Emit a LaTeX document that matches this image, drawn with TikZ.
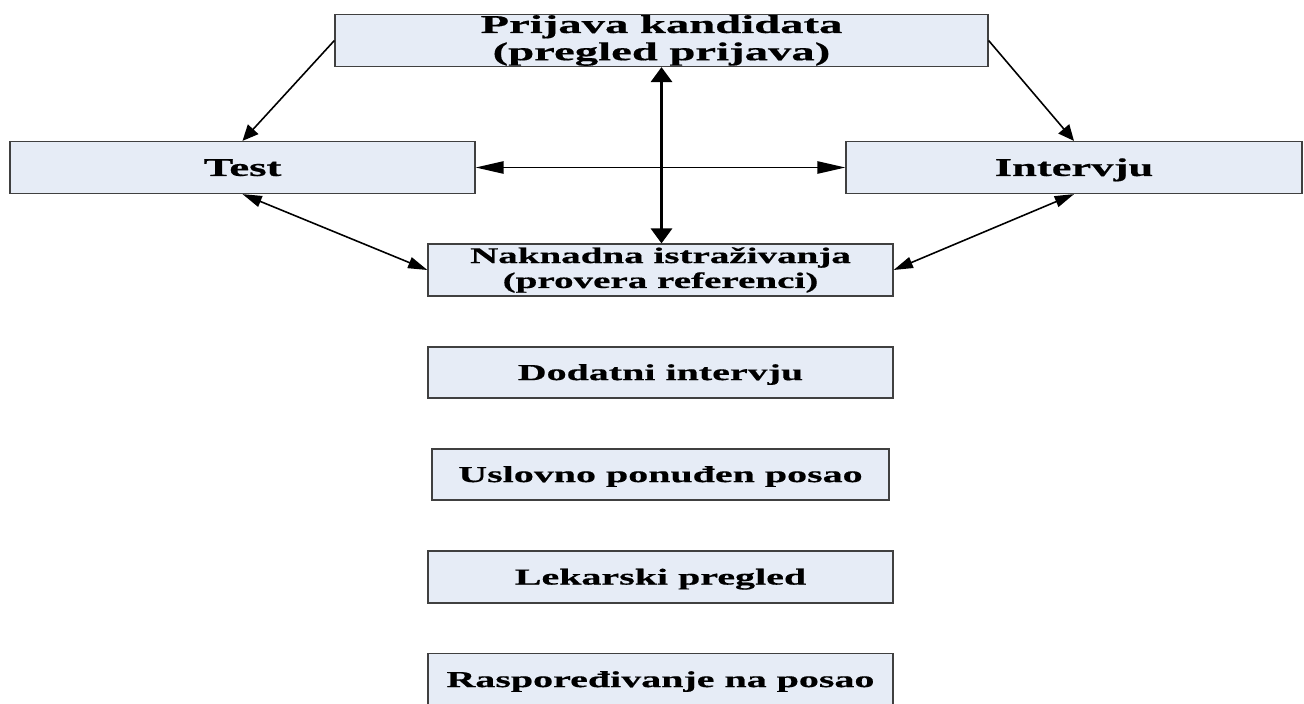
\documentclass[tikz,border=0pt]{standalone}
\usepackage{fontspec}
\newfontfamily\stagefont[FakeStretch=1.75, FakeBold=0.6]{Liberation Serif}
\newfontfamily\headfont[FakeStretch=1.82, FakeBold=0.6]{Liberation Serif}
\usetikzlibrary{arrows.meta,positioning}
\definecolor{boxfill}{HTML}{E6ECF6}
\definecolor{boxline}{HTML}{404040}
\tikzset{
  stagebox/.style={
    draw=boxline, fill=boxfill, line width=0.7pt,
    inner sep=0pt, align=center, minimum height=1.04cm,
    text height=8.6pt, text depth=0pt,
    font=\stagefont\bfseries\fontsize{13}{14.2}\selectfont
  },
  headbox/.style={stagebox, text height={}, text depth={}, font=\headfont\bfseries\fontsize{14.6}{15.5}\selectfont},
  sidebox/.style={stagebox, text height=9.6pt, font=\stagefont\bfseries\fontsize{14.5}{16}\selectfont},
  twobox/.style={stagebox, text height={}, text depth={}, font=\stagefont\bfseries\fontsize{12.7}{14.2}\selectfont},
  arrow/.style={-{Triangle[length=9pt,width=8pt]}, line width=0.9pt, draw=black},
  sidearr/.style={{Triangle[length=11pt,width=6.5pt]}-{Triangle[length=11pt,width=6.5pt]}, line width=0.9pt, draw=black},
  widearr/.style={{Triangle[length=16pt,width=7pt]}-{Triangle[length=16pt,width=7pt]}, line width=1pt, draw=black},
  tallarr/.style={{Triangle[length=8.5pt,width=12pt]}-{Triangle[length=8.5pt,width=12pt]}, line width=1.6pt, draw=black}
}
\begin{document}
\begin{tikzpicture}
  \useasboundingbox (0,0) rectangle (26.08,-14.08);
  \node[headbox, minimum width=13.06cm] (prijava) at (13.23,-0.81) {Prijava kandidata\\(pregled prijava)};
  \node[sidebox, minimum width=9.30cm] (test) at (4.85,-3.35) {Test};
  \node[sidebox, minimum width=9.12cm] (intervju) at (21.48,-3.35) {Intervju};
  \node[twobox, minimum width=9.30cm] (naknadna) at (13.21,-5.40) {Naknadna istraživanja\\(provera referenci)};
  \node[stagebox, minimum width=9.30cm, minimum height=1.02cm] (dodatni) at (13.21,-7.45) {Dodatni intervju};
  \node[stagebox, minimum width=9.14cm, minimum height=1.02cm] (uslovno) at (13.21,-9.49) {Uslovno ponuđen posao};
  \node[stagebox, minimum width=9.30cm] (lekarski) at (13.21,-11.54) {Lekarski pregled};
  \node[stagebox, minimum width=9.30cm] (raspored) at (13.21,-13.59) {Raspoređivanje na posao};
  \draw[arrow] (prijava.west) -- (test.north);
  \draw[arrow] (prijava.east) -- (intervju.north);
  \draw[widearr] (test.east) -- (intervju.west);
  \draw[tallarr] (prijava.south) -- (prijava.south |- naknadna.north);
  \draw[sidearr] (test.south) -- (naknadna.west);
  \draw[sidearr] (intervju.south) -- (naknadna.east);
\end{tikzpicture}
\end{document}
